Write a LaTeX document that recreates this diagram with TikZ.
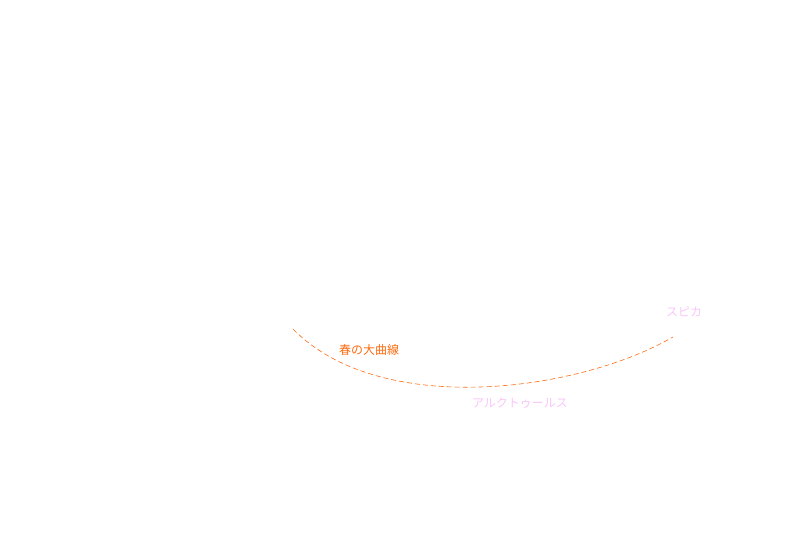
\documentclass[tikz,border=0pt]{standalone}
\usepackage{fontspec}
\newfontfamily\jpfont{Noto Sans CJK JP}
\definecolor{curveorange}{HTML}{FF6A10}
\definecolor{starpink}{HTML}{F9C6F9}

\begin{document}
\begin{tikzpicture}[
  x=1pt, y=-1pt,
  curve/.style={draw=curveorange, dashed, dash pattern=on 5pt off 3pt, line width=0.6pt},
  curvelbl/.style={font=\jpfont\fontsize{12}{14}\selectfont, text=curveorange, inner sep=1pt},
  starlbl/.style={font=\jpfont\fontsize{12}{14}\selectfont, text=starpink, inner sep=1pt}
]
\useasboundingbox (0,0) rectangle (800,533);

% ---- Star labels ----
\node[starlbl] (arcturus) at (520,403) {アルクトゥールス};
\node[starlbl] (spica) at (684,312) {スピカ};

% ---- Spring curve ----
\coordinate (curvestart) at (293,329);
\coordinate (curveend) at (673,337);
\draw[curve] (curvestart) .. controls (380,418) and (578,392) .. (curveend);
\node[curvelbl] (curvename) at (369,350) {春の大曲線};

\end{tikzpicture}
\end{document}
